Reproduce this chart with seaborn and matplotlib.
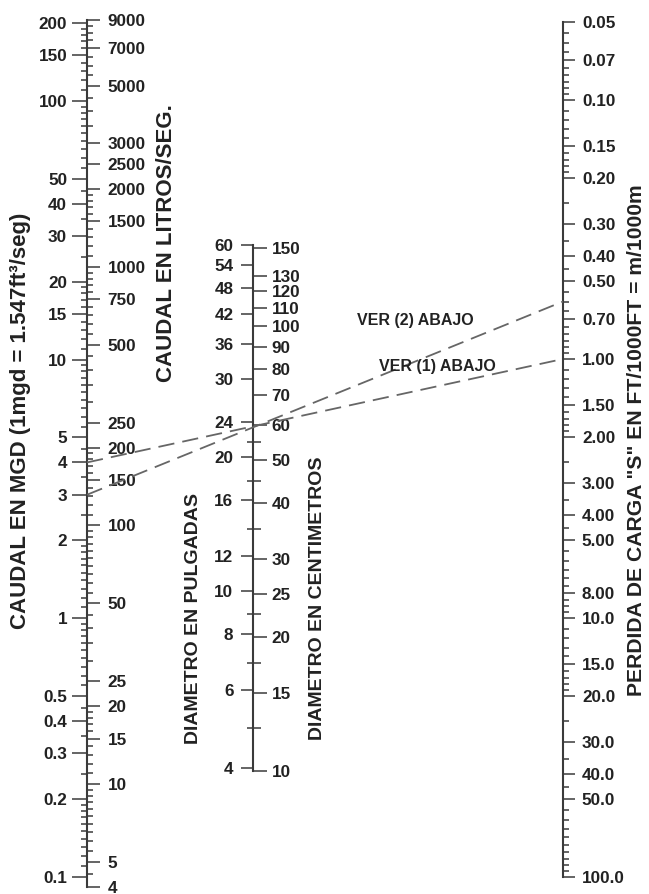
import numpy as np
import pandas as pd
import matplotlib
matplotlib.use("Agg")
import matplotlib.pyplot as plt
from matplotlib import font_manager as fm
import seaborn as sns

# ---------------- data ----------------
mgd_ticks = [200, 150, 100, 50, 40, 30, 20, 15, 10, 5, 4, 3, 2, 1, 0.5, 0.4, 0.3, 0.2, 0.1]
mgd_labels = ["200", "150", "100", "50", "40", "30", "20", "15", "10", "5", "4", "3", "2",
              "1", "0.5", "0.4", "0.3", "0.2", "0.1"]
lps_ticks = [9000, 7000, 5000, 3000, 2500, 2000, 1500, 1000, 750, 500, 250, 200, 150, 100,
             50, 25, 20, 15, 10, 5, 4]
lps_labels = [str(v) for v in lps_ticks]
inch_ticks = [60, 54, 48, 42, 36, 30, 24, 20, 16, 12, 10, 8, 6, 4]
inch_labels = [str(v) for v in inch_ticks]
cm_ticks = [150, 130, 120, 110, 100, 90, 80, 70, 60, 50, 40, 30, 25, 20, 15, 10]
cm_labels = [str(v) for v in cm_ticks]
cm_minor = [55, 45, 35, 22.5, 17.5, 12.5]
s_ticks = [0.05, 0.07, 0.10, 0.15, 0.20, 0.30, 0.40, 0.50, 0.70, 1.00, 1.50, 2.00, 3.00,
           4.00, 5.00, 8.00, 10.0, 15.0, 20.0, 30.0, 40.0, 50.0, 100.0]
s_labels = ["0.05", "0.07", "0.10", "0.15", "0.20", "0.30", "0.40", "0.50", "0.70", "1.00",
            "1.50", "2.00", "3.00", "4.00", "5.00", "8.00", "10.0", "15.0", "20.0", "30.0",
            "40.0", "50.0", "100.0"]

example_tags = ["VER (1) ABAJO", "VER (2) ABAJO"]
example_q_mgd = [4.0, 3.0]
example_d_in = [24, 24]
example_s = [1.00, 0.60]

MGD_TO_LPS = 43.81
q_range_lps = (4, 9000)
d_range_in = (10 / 2.54, 60)
s_range = (0.05, 100)

# ---------------- style ----------------
sns.set_theme(style="ticks")
_names = {f.name for f in fm.fontManager.ttflist}
if "Liberation Sans Narrow" in _names:
    NARROW = ['Liberation Sans Narrow', 'DejaVu Sans']
    TFS = 12.8
    VFS = 13.5
else:
    NARROW = ['Liberation Sans', 'DejaVu Sans']
    TFS = 12.3
    VFS = 11.5
WIDE = ['Liberation Sans', 'DejaVu Sans']
plt.rcParams['font.family'] = WIDE
plt.rcParams['font.weight'] = 'bold'

INK = "#222222"
AX = "#3a3a3a"
SPW = 1.5
TW = 1.1


def log_minor(lo, hi, major):
    out = []
    d = 10.0 ** np.floor(np.log10(lo))
    while d <= hi * 1.0001:
        for v in np.concatenate([np.arange(1, 2, 0.1), np.arange(2, 10, 0.5)]) * d:
            v = float(np.round(v, 8))
            if lo * 0.9999 <= v <= hi * 1.0001 and not np.any(np.isclose(v, major, rtol=1e-6)):
                out.append(v)
        d *= 10
    return out


W, H = 649, 894
fig = plt.figure(figsize=(W / 100, H / 100), dpi=100)


def make_axis(x, ytop, ybot):
    ax = fig.add_axes([x / W, (H - ybot) / H, 0.5 / W, (ybot - ytop) / H])
    ax.set_xticks([])
    ax.patch.set_alpha(0)
    for sp in ax.spines.values():
        sp.set_visible(False)
    return ax


def style_side(ax, side, ticks, labels, minor, major_len, minor_len, pad,
               minor_dir="out", visible_spine=True):
    ax.set_yscale("log")
    ax.yaxis.set_ticks_position(side)
    ax.set_yticks(ticks, labels, fontsize=TFS, fontweight="bold", family=NARROW, color=INK)
    ax.set_yticks(minor, minor=True)
    ax.yaxis.set_minor_formatter(matplotlib.ticker.NullFormatter())
    ax.tick_params(axis="y", which="major", length=major_len, width=TW, color=AX,
                   pad=pad, direction="out", left=(side == "left"), right=(side == "right"),
                   labelleft=(side == "left"), labelright=(side == "right"))
    ax.tick_params(axis="y", which="minor", length=minor_len, width=TW, color=AX,
                   direction=minor_dir, left=(side == "left"), right=(side == "right"))
    if visible_spine:
        ax.spines[side].set_visible(True)
        ax.spines[side].set_linewidth(SPW)
        ax.spines[side].set_color(AX)


# --- left: flow (mgd | L/s) ---
ax_q = make_axis(87, 20, 887)
ax_q.set_yscale("log")
ax_q.set_ylim(q_range_lps[0] / MGD_TO_LPS, q_range_lps[1] / MGD_TO_LPS)
style_side(ax_q, "left", mgd_ticks, mgd_labels,
           log_minor(0.1, 200, mgd_ticks), 10.8, 4.3, 3.5)
ax_q.set_ylim(q_range_lps[0] / MGD_TO_LPS, q_range_lps[1] / MGD_TO_LPS)

ax_l = ax_q.twinx()
for sp in ax_l.spines.values():
    sp.set_visible(False)
ax_l.set_yscale("log")
style_side(ax_l, "right", lps_ticks, lps_labels,
           log_minor(4, 9000, lps_ticks), 9.4, 4.3, 5, visible_spine=False)
ax_l.set_ylim(*q_range_lps)

# --- middle: diameter (in | cm) ---
ax_d = make_axis(253, 245, 771)
style_side(ax_d, "left", inch_ticks, inch_labels, [], 8.6, 4.3, 5.5)
ax_d.set_ylim(*d_range_in)

ax_c = ax_d.twinx()
for sp in ax_c.spines.values():
    sp.set_visible(False)
style_side(ax_c, "right", cm_ticks, cm_labels, cm_minor, 9.4, 10, 3.6,
           minor_dir="inout", visible_spine=False)
ax_c.set_ylim(d_range_in[0] * 2.54, d_range_in[1] * 2.54)

# --- right: head loss ---
ax_s = make_axis(562.5, 22, 877)
style_side(ax_s, "right", s_ticks, s_labels, log_minor(0.05, 100, s_ticks), 8.6, 4.3, 5)
ax_s.set_ylim(s_range[1], s_range[0])

# --- example dashed lines (through the axes' own transforms) ---
ov = fig.add_axes([0, 0, 1, 1])
ov.set_xlim(0, 1)
ov.set_ylim(0, 1)
ov.axis("off")
ov.patch.set_alpha(0)
fig.canvas.draw()
inv = fig.transFigure.inverted()
rows = []
for tag, q, s in zip(example_tags, example_q_mgd, example_s):
    p0 = inv.transform(ax_q.get_yaxis_transform().transform((0, q)))
    p1 = inv.transform(ax_s.get_yaxis_transform().transform((1, s)))
    rows.append({"tag": tag, "x": p0[0], "y": p0[1]})
    rows.append({"tag": tag, "x": p1[0], "y": p1[1]})
df = pd.DataFrame(rows)
for tag, g in df.groupby("tag"):
    sns.lineplot(data=g, x="x", y="y", ax=ov, color="#666666", lw=1.3,
                 linestyle=(0, (9, 4.5)), sort=False, estimator=None, legend=False)
ov.set_xlim(0, 1)
ov.set_ylim(0, 1)
ov.axis("off")


def fx(x):
    return x / W


def fy(y):
    return 1 - y / H


# annotations
fig.text(fx(415), fy(320), example_tags[1], family=NARROW, fontsize=VFS, fontweight="bold",
         color=INK, ha="center", va="center")
fig.text(fx(437), fy(366), example_tags[0], family=NARROW, fontsize=VFS, fontweight="bold",
         color=INK, ha="center", va="center")

# axis titles
fig.text(fx(21), fy(421), "CAUDAL EN MGD (1mgd = 1.547ft³/seg)", rotation=90, family=WIDE,
         fontsize=16, fontweight="bold", color=INK, ha="center", va="center")
fig.text(fx(166), fy(243), "CAUDAL EN LITROS/SEG.", rotation=90, family=WIDE,
         fontsize=16, fontweight="bold", color=INK, ha="center", va="center")
fig.text(fx(194), fy(618), "DIAMETRO EN PULGADAS", rotation=90, family=WIDE,
         fontsize=14, fontweight="bold", color=INK, ha="center", va="center")
fig.text(fx(317), fy(598), "DIAMETRO EN CENTIMETROS", rotation=90, family=WIDE,
         fontsize=14, fontweight="bold", color=INK, ha="center", va="center")
fig.text(fx(637), fy(440), 'PERDIDA DE CARGA "S" EN FT/1000FT = m/1000m', rotation=90,
         family=WIDE, fontsize=15.2, fontweight="bold", color=INK, ha="center", va="center")

fig.savefig("out.png", dpi=100)
